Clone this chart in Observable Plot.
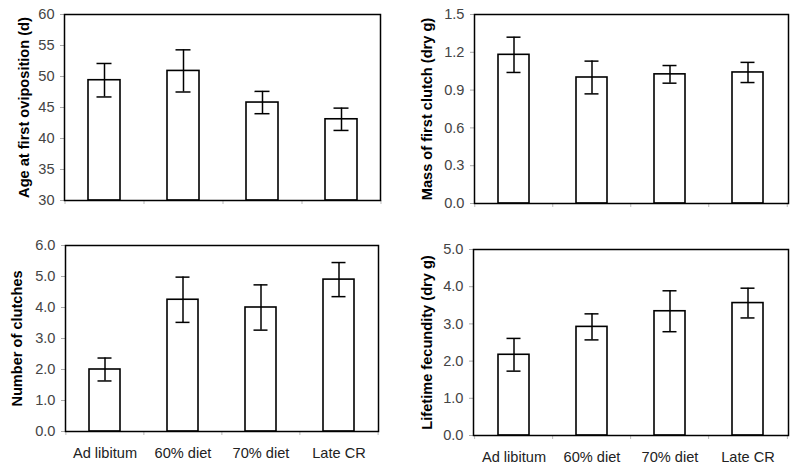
<!DOCTYPE html>
<html>
<head>
<meta charset="utf-8">
<script src="https://cdn.jsdelivr.net/npm/d3@7"></script>
<script src="https://cdn.jsdelivr.net/npm/@observablehq/plot@0.6"></script>
<style>
  body { margin: 0; background: #fff; }
  #wrap { position: relative; width: 800px; height: 474px; background: #fff; font-family: "Liberation Sans", Arial, sans-serif; }
  .panel { position: absolute; }
</style>
</head>
<body>
<div id="wrap"></div>
<script>
const categories = ["Ad libitum", "60% diet", "70% diet", "Late CR"];

const ageMean = [49.4, 50.9, 45.8, 43.1];
const ageErr = [2.7, 3.4, 1.8, 1.8];
const ageTicks = [30, 35, 40, 45, 50, 55, 60];

const massMean = [1.18, 1.00, 1.025, 1.04];
const massErr = [0.14, 0.13, 0.07, 0.08];
const massTicks = [0.0, 0.3, 0.6, 0.9, 1.2, 1.5];

const clutchMean = [2.0, 4.25, 4.0, 4.9];
const clutchErr = [0.37, 0.73, 0.73, 0.55];
const clutchTicks = [0, 1, 2, 3, 4, 5, 6];

const fecMean = [2.17, 2.92, 3.34, 3.56];
const fecErr = [0.44, 0.35, 0.55, 0.40];
const fecTicks = [0, 1, 2, 3, 4, 5];

const panels = [
  {left: 0, top: 0, mean: ageMean, err: ageErr, ticks: ageTicks, fmt: d3.format("d"),
   label: "Age at first oviposition (d)", m: {l: 64, r: 20, t: 14, b: 37}, labelDx: -40, xLabels: false},
  {left: 400, top: 0, mean: massMean, err: massErr, ticks: massTicks, fmt: d3.format(".1f"),
   label: "Mass of first clutch (dry g)", m: {l: 74, r: 12, t: 14, b: 34}, labelDx: -47, xLabels: false},
  {left: 0, top: 237, mean: clutchMean, err: clutchErr, ticks: clutchTicks, fmt: d3.format(".1f"),
   label: "Number of clutches", m: {l: 65, r: 22, t: 8, b: 43}, labelDx: -48, xLabels: true},
  {left: 400, top: 237, mean: fecMean, err: fecErr, ticks: fecTicks, fmt: d3.format(".1f"),
   label: "Lifetime fecundity (dry g)", m: {l: 73, r: 12, t: 12, b: 39}, labelDx: -46, xLabels: true}
];

const W = 400, H = 237;
const FS = 14.6;
const wrap = document.getElementById("wrap");

for (const p of panels) {
  const data = categories.map((c, i) => ({cat: c, mean: p.mean[i], lo: p.mean[i] - p.err[i], hi: p.mean[i] + p.err[i]}));
  const ymin = p.ticks[0], ymax = p.ticks[p.ticks.length - 1];
  const step = (W - p.m.l - p.m.r) / categories.length;
  const marks = [
    Plot.barY(data, {x: "cat", y1: ymin, y2: "mean", fill: "white", stroke: "black", strokeWidth: 1.6}),
    Plot.ruleX(data, {x: "cat", y1: "lo", y2: "hi", stroke: "black", strokeWidth: 1.5}),
    Plot.tickY(data, {x: "cat", y: "hi", stroke: "black", strokeWidth: 1.5, insetLeft: 8.5, insetRight: 8.5}),
    Plot.tickY(data, {x: "cat", y: "lo", stroke: "black", strokeWidth: 1.5, insetLeft: 8.5, insetRight: 8.5}),
    Plot.axisY({ticks: p.ticks, tickFormat: p.fmt, tickSize: 4, tickPadding: 6, stroke: "#aaa", fill: "#444", fontSize: FS, label: null}),
    Plot.axisX(categories, {tickSize: 4, text: null, stroke: "#bbb", dx: -step / 2, label: null}),
    Plot.axisX([categories[categories.length - 1]], {tickSize: 4, text: null, stroke: "#bbb", dx: step / 2, label: null}),
    Plot.frame({stroke: "black", strokeWidth: 1.5}),
    Plot.text([p.label], {frameAnchor: "left", rotate: -90, dx: p.labelDx, fontWeight: "bold", fontSize: FS, fill: "black", textAnchor: "middle"})
  ];
  if (p.xLabels) {
    marks.push(Plot.axisX(categories, {tickSize: 0, tickPadding: 16, fill: "#222", fontSize: FS, label: null}));
  }
  const chart = Plot.plot({
    width: W, height: H,
    marginLeft: p.m.l, marginRight: p.m.r, marginTop: p.m.t, marginBottom: p.m.b,
    style: {fontFamily: '"Liberation Sans", Arial, sans-serif', background: "white", overflow: "visible"},
    x: {domain: categories, paddingInner: 0.6, paddingOuter: 0.3, axis: null},
    y: {domain: [ymin, ymax], axis: null},
    marks
  });
  chart.classList.add("panel");
  chart.style.left = p.left + "px";
  chart.style.top = p.top + "px";
  wrap.appendChild(chart);
}
</script>
</body>
</html>
